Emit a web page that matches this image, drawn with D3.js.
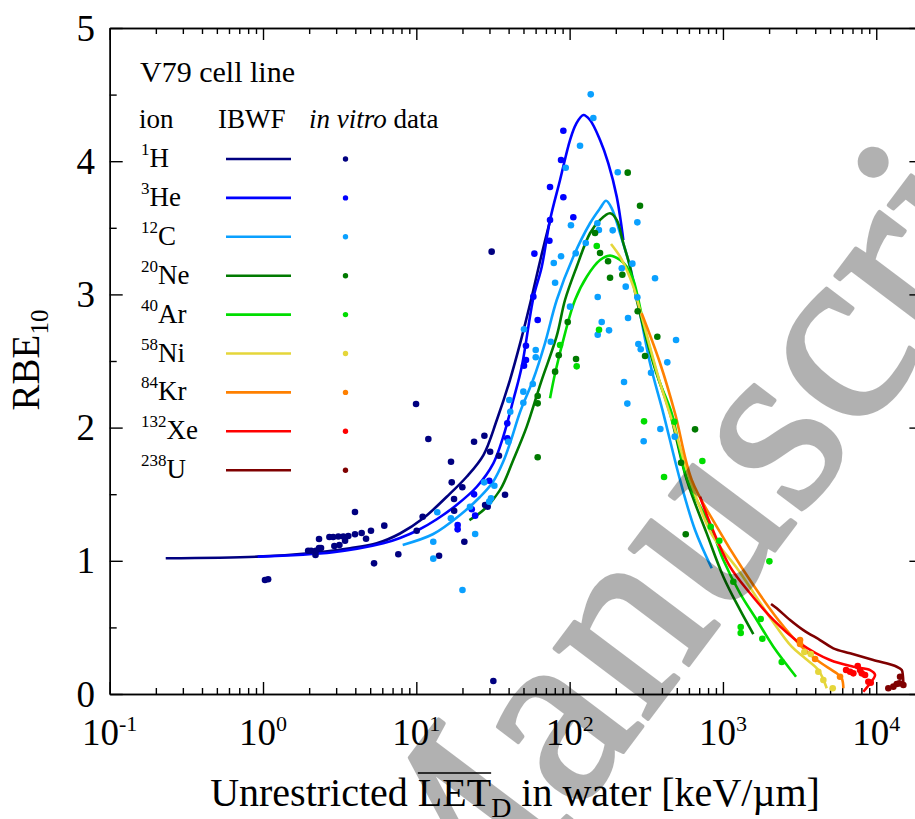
<!DOCTYPE html>
<html lang="en">
<head>
<meta charset="UTF-8">
<script src="https://d3js.org/d3.v7.min.js"></script>
<title>RBE10 vs LET, V79</title>
<style>
  body { margin: 0; background: #fff; overflow: hidden; }
  svg { display: block; }
</style>
</head>
<body>
<svg id="chart" width="915" height="819" font-family="Liberation Serif, DejaVu Serif, serif"></svg>
<script>
// ion names
const ionMass = ["1", "3", "12", "20", "40", "58", "84", "132", "238"];
const ionSymbol = ["H", "He", "C", "Ne", "Ar", "Ni", "Kr", "Xe", "U"];

// IBWF model curves [LET keV/um, RBE10]
const ibwfH = [[0.232,1.019],[0.923,1.031],[2.18,1.061],[3.69,1.094],[5.52,1.131],[7.83,1.205],[11.1,1.319],[15.8,1.481],[21.3,1.631],[27.4,1.794],[33.5,2.057],[40.8,2.357],[48.2,2.658],[56.6,2.980],[65.1,3.281],[75.6,3.581]];
const ibwfHe = [[0.923,1.031],[2.87,1.064],[6.09,1.131],[7.83,1.171],[10.3,1.231],[13.6,1.312],[18.3,1.419],[24.8,1.556],[31.8,1.732],[36.9,1.932],[42.9,2.207],[48.7,2.457],[58.0,2.973],[65.8,3.208],[74.5,3.559],[86.6,3.859],[100.6,4.159],[110.1,4.279],[122.9,4.347],[135.8,4.309],[157.9,4.159],[178.8,3.984],[202.8,3.734],[224,3.408]];
const ibwfC = [[8.15,1.119],[12.9,1.201],[19.3,1.344],[26.0,1.479],[31.6,1.592],[36.8,1.742],[41.5,1.907],[47.5,2.117],[57.7,2.357],[69.1,2.635],[82.4,2.958],[105.7,3.283],[135.8,3.534],[157.9,3.646],[172.8,3.703],[188.2,3.646],[213.3,3.459],[247.7,3.208],[274,2.988],[334.6,2.483],[408.4,2.107],[525,1.607],[657.7,1.231],[845,0.944]];
const ibwfNe = [[22.2,1.306],[27.4,1.381],[35.2,1.532],[42.9,1.757],[52.5,2.007],[65.1,2.342],[82.4,2.688],[93.3,2.958],[111.2,3.208],[135.8,3.459],[157.9,3.559],[183.5,3.609],[202.8,3.559],[224,3.384],[247.7,3.208],[274,2.958],[351.6,2.483],[451.9,2.107],[580.7,1.607],[783.7,1.206],[1006,0.881],[1293,0.631],[1578,0.450]];
const ibwfAr = [[74.5,2.220],[80.4,2.408],[93.3,2.708],[108.4,2.958],[129.3,3.133],[157.9,3.258],[183.5,3.291],[213.3,3.258],[235.8,3.208],[260.4,3.108],[310.5,2.733],[383,2.357],[463.5,2.107],[586,1.607],[832,1.256],[1006,1.006],[1293,0.756],[1662,0.556],[2133,0.355],[2998,0.130]];
const ibwfNi = [[186.2,3.378],[213.3,3.283],[235.8,3.183],[260.4,3.058],[287.8,2.883],[389,2.335],[487,1.982],[610,1.607],[849,1.194],[1259,0.931],[2080,0.556],[2810,0.355],[3433,0.268],[4190,0.180],[4754,0.043]];
const ibwfKr = [[295,2.858],[389,2.483],[487,2.107],[626,1.607],[911,1.256],[1358,0.931],[2299,0.556],[3266,0.355],[4093,0.255],[5521,0.155],[5957,0.118],[6105,0.043]];
const ibwfXe = [[709,1.481],[824,1.282],[1112,0.956],[1503,0.756],[2133,0.556],[3184,0.381],[4996,0.255],[7089,0.205],[9120,0.180],[9820,0.143],[9120,0.080],[8240,0.017]];
const ibwfU = [[2060,0.676],[2244,0.643],[2740,0.556],[3346,0.480],[4297,0.405],[5250,0.343],[6750,0.306],[9570,0.255],[13600,0.205],[14670,0.180],[14900,0.143],[15030,0.080]];

// in vitro data [LET, RBE10]
const dataH = [[1.03,0.856],[1.08,0.861],[1.97,1.076],[2.06,1.076],[2.21,1.076],[2.32,1.096],[2.39,1.096],[2.20,1.044],[2.32,1.164],[2.71,1.179],[2.87,1.179],[3.10,1.182],[3.34,1.182],[3.60,1.186],[2.92,1.111],[3.15,1.119],[3.43,1.151],[3.98,1.199],[4.40,1.209],[4.70,1.166],[5.06,1.226],[6.18,1.264],[3.98,1.366],[5.30,0.981],[7.63,1.049],[9.96,2.177],[11.98,1.914],[10.06,1.226],[11.0,1.331],[14.07,1.038],[16.84,1.744],[17.02,1.589],[17.62,1.464],[17.65,1.376],[19.96,1.552],[20.57,1.143],[23.8,1.894],[27.8,1.939],[30.3,1.819],[34.6,1.789],[28.1,1.419],[29.2,1.406],[37.9,1.496],[31.0,3.321],[31.8,0.098]];
const dataHe = [[18.6,1.269],[18.6,1.236],[23.0,1.387],[24.2,1.339],[23.8,1.499],[29.9,1.601],[39.2,2.032],[39.2,1.920],[50.4,2.465],[51.9,2.508],[51.9,2.615],[61.9,2.808],[58.0,2.983],[58.9,3.306],[73.8,3.403],[74.5,3.559],[74.5,3.806],[91.0,3.729],[105.7,3.579],[87.9,4.009],[91.0,4.229]];
const dataC = [[12.9,1.016],[12.9,1.143],[13.7,1.364],[16.8,1.319],[20.0,0.781],[22.4,1.406],[24.2,1.201],[27.7,1.589],[32.3,1.564],[30.7,1.469],[29.9,1.444],[39.8,1.894],[40.4,2.207],[41.0,2.119],[49.9,2.270],[49.9,2.187],[57.5,2.327],[50.4,2.738],[60.1,2.583],[60.1,2.528],[75.3,2.645],[80.4,3.088],[78.8,3.236],[87.9,3.286],[94.3,3.951],[100.6,2.908],[102,3.519],[109.6,3.309],[116.9,4.116],[127.4,3.386],[137.3,4.502],[142.8,4.324],[151.7,3.534],[155.2,3.483],[152.5,2.980],[161.9,2.793],[152.5,2.697],[180.7,2.730],[191,3.481],[206,3.917],[218.8,3.196],[232.3,3.058],[240.4,2.823],[226.4,2.342],[237.9,2.180],[256.6,3.231],[276.5,3.541],[276.5,2.978],[280.6,2.628],[290.9,2.588],[304.1,1.897],[339.6,2.412],[360.6,3.121],[390.7,1.989],[433.6,2.490],[484.9,1.932],[494.5,2.658]];
const dataNe = [[61.9,2.237],[61.9,2.182],[61.9,1.777],[80.4,2.420],[84.9,2.543],[97.2,2.793],[110.1,2.515],[146.5,3.461],[157.9,3.311],[178.1,3.249],[183.5,3.125],[220.7,3.148],[239.3,3.914],[287.8,3.666],[278.0,2.873],[310.5,2.538],[373.3,2.682],[657.7,1.987],[533.1,1.736],[571.9,1.199]];
const dataAr = [[86.6,2.620],[111.2,2.460],[150.3,3.363],[155.5,2.735],[305.8,2.047],[412.9,1.629],[482,2.044],[734,1.749],[832,1.256],[947.5,1.151],[2009,0.996],[1169,0.843],[1765,0.563],[1306,0.503],[1306,0.458],[1807,0.415],[2419,0.240]];
const dataNi = [[3396,0.315],[3740,0.300],[4190,0.167],[4518,0.105],[5200,0.043]];
const dataKr = [[3184,0.405],[3184,0.375],[3990,0.263],[5805,0.130]];
const dataXe = [[6357,0.180],[6750,0.167],[7089,0.155],[7572,0.210],[7840,0.180],[8045,0.155],[8453,0.143],[8882,0.092],[9206,0.085]];
const dataU = [[14300,0.130],[14150,0.080],[12930,0.055],[11990,0.043],[15030,0.068],[13600,0.075]];

const xDecades = [0.1, 1, 10, 100, 1000, 10000];
const xExponents = ["-1", "0", "1", "2", "3", "4"];
const yTicks = [0, 1, 2, 3, 4, 5];

const curves = [ibwfH, ibwfHe, ibwfC, ibwfNe, ibwfAr, ibwfNi, ibwfKr, ibwfXe, ibwfU];
const points = [dataH, dataHe, dataC, dataNe, dataAr, dataNi, dataKr, dataXe, dataU];
const colors = ["#000080", "#0000ff", "#0aa0ff", "#007a00", "#00dd00", "#e5d63a", "#ff8000", "#ff0000", "#7f0000"];

const svg = d3.select("#chart");

const x = d3.scaleLog().domain([0.1, 2e4]).range([109.7, 922.4]);
const y = d3.scaleLinear().domain([0, 5]).range([694, 28]);

// minor ticks
const xMinor = [];
xDecades.forEach(d => { for (let k = 2; k <= 9; k++) if (d * k < 2e4) xMinor.push(d * k); });
const yMinor = d3.range(0.5, 5, 1);

function styleAxis(g) {
  g.selectAll("path").attr("stroke", "#000").attr("stroke-width", 1.4);
  g.selectAll("line").attr("stroke", "#000").attr("stroke-width", 1.4);
  g.selectAll("text").remove();
}

// bottom axis, ticks inward
svg.append("g").attr("transform", "translate(0,694)")
  .call(d3.axisTop(x).tickValues(xDecades).tickSize(12).tickSizeOuter(0)).call(styleAxis);
svg.append("g").attr("transform", "translate(0,694)")
  .call(d3.axisTop(x).tickValues(xMinor).tickSize(6).tickSizeOuter(0)).call(styleAxis);
// top axis
svg.append("g").attr("transform", "translate(0,28)")
  .call(d3.axisBottom(x).tickValues(xDecades).tickSize(12).tickSizeOuter(0)).call(styleAxis);
svg.append("g").attr("transform", "translate(0,28)")
  .call(d3.axisBottom(x).tickValues(xMinor).tickSize(6).tickSizeOuter(0)).call(styleAxis);
// left and right axes
svg.append("g").attr("transform", "translate(109.7,0)")
  .call(d3.axisRight(y).tickValues(yTicks).tickSize(13).tickSizeOuter(0)).call(styleAxis);
svg.append("g").attr("transform", "translate(109.7,0)")
  .call(d3.axisRight(y).tickValues(yMinor).tickSize(7).tickSizeOuter(0)).call(styleAxis);
svg.append("g").attr("transform", "translate(922.4,0)")
  .call(d3.axisLeft(y).tickValues(yTicks).tickSize(13).tickSizeOuter(0)).call(styleAxis);
svg.append("g").attr("transform", "translate(922.4,0)")
  .call(d3.axisLeft(y).tickValues(yMinor).tickSize(7).tickSizeOuter(0)).call(styleAxis);

// tick labels
svg.append("g").selectAll("text").data(yTicks).join("text")
  .attr("x", 95).attr("y", d => y(d)).attr("dy", "0.34em")
  .attr("text-anchor", "end").attr("font-size", 37).text(d => d);

const xl = svg.append("g").selectAll("text").data(xDecades).join("text")
  .attr("x", d => x(d)).attr("y", 745).attr("text-anchor", "middle").attr("font-size", 37);
xl.append("tspan").text("10");
xl.append("tspan").attr("dy", -14).attr("font-size", 22).text((d, i) => xExponents[i]);

// axis titles
const yt = svg.append("text").attr("transform", "translate(38.5,360) rotate(-90)")
  .attr("text-anchor", "middle").attr("font-size", 39);
yt.append("tspan").text("RBE");
yt.append("tspan").attr("dy", 9).attr("font-size", 25).text("10");

const xt = svg.append("text").attr("x", 515).attr("y", 806)
  .attr("text-anchor", "middle").attr("font-size", 40);
xt.append("tspan").text("Unrestricted LET");
xt.append("tspan").attr("dy", 11).attr("font-size", 28).text("D");
xt.append("tspan").attr("dy", -11).text(" in water [keV/\u00b5m]");
const xtNode = xt.node();
const ox1 = xtNode.getStartPositionOfChar(13).x;
const ox2 = xtNode.getEndPositionOfChar(15).x;
svg.append("line").attr("x1", ox1).attr("x2", ox2).attr("y1", 773).attr("y2", 773)
  .attr("stroke", "#000").attr("stroke-width", 1.6);

// IBWF curves
const line = d3.line().x(d => x(d[0])).y(d => y(d[1])).curve(d3.curveCatmullRom.alpha(0.5));
svg.append("g").selectAll("path").data(curves).join("path")
  .attr("d", line).attr("fill", "none")
  .attr("stroke", (d, i) => colors[i]).attr("stroke-width", 2.6);

// in vitro points
points.forEach((pts, i) => {
  svg.append("g").selectAll("circle").data(pts).join("circle")
    .attr("cx", d => x(d[0])).attr("cy", d => y(d[1])).attr("r", 3.3)
    .attr("fill", colors[i]);
});

// legend
const legend = svg.append("g");
legend.append("text").attr("x", 140).attr("y", 82).attr("font-size", 30).text("V79 cell line");
legend.append("text").attr("x", 139).attr("y", 128).attr("font-size", 27).text("ion");
legend.append("text").attr("x", 218).attr("y", 128).attr("font-size", 27).text("IBWF");
const hd = legend.append("text").attr("x", 309).attr("y", 128).attr("font-size", 27);
hd.append("tspan").attr("font-style", "italic").text("in vitro");
hd.append("tspan").text(" data");

const rowY = i => 159 + i * 38.9;
const rows = legend.selectAll("g.row").data(ionSymbol).join("g").attr("class", "row");
const lab = rows.append("text").attr("x", 141).attr("y", (d, i) => rowY(i) + 8).attr("font-size", 27);
lab.append("tspan").attr("dy", -12).attr("font-size", 17).text((d, i) => ionMass[i]);
lab.append("tspan").attr("dy", 12).text(d => d);
rows.append("line").attr("x1", 226).attr("x2", 291)
  .attr("y1", (d, i) => rowY(i)).attr("y2", (d, i) => rowY(i))
  .attr("stroke", (d, i) => colors[i]).attr("stroke-width", 2.6);
rows.append("circle").attr("cx", 345.5).attr("cy", (d, i) => rowY(i)).attr("r", 2.7)
  .attr("fill", (d, i) => colors[i]);

// watermark (drawn on top, semi-transparent grey)
svg.append("g").attr("opacity", 0.3).style("pointer-events", "none")
  .append("text").attr("transform", "translate(440,995) rotate(-53)")
  .attr("font-size", 255).attr("fill", "#000")
  .attr("stroke", "#000").attr("stroke-width", 4).attr("stroke-linejoin", "round")
  .text("Manuscript");
</script>
</body>
</html>
